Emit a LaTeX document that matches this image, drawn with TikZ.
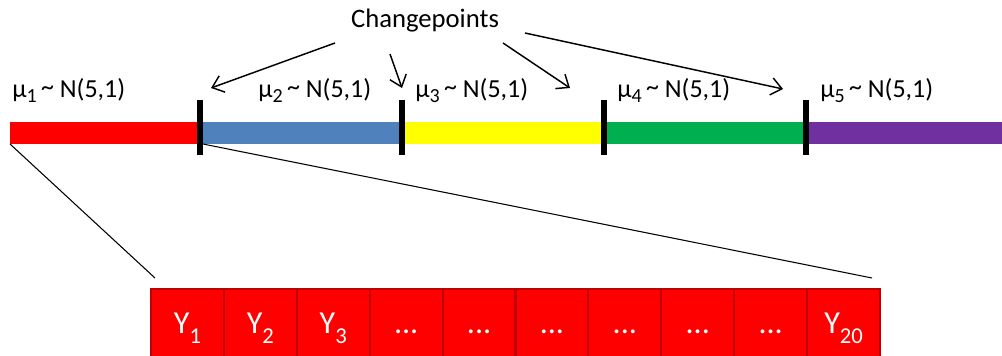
\documentclass[tikz,border=0pt]{standalone}
\usepackage{fontspec}
\setmainfont{Carlito}
\usetikzlibrary{arrows.meta}

\definecolor{segred}{HTML}{FF0000}
\definecolor{segblue}{HTML}{4F81BD}
\definecolor{segyellow}{HTML}{FFFF00}
\definecolor{seggreen}{HTML}{00B050}
\definecolor{segpurple}{HTML}{7030A0}
\definecolor{celledge}{HTML}{C00000}

% lowered subscript in the label font
\newcommand\lowsub[3]{\raisebox{-#2}{\fontsize{#3}{#3}\selectfont #1}}
\newcommand\mulabel[1]{μ\lowsub{#1}{3.5pt}{15pt}\,\raisebox{1.5pt}{\textasciitilde}\ N(5,1)}
\newcommand\ylabel[1]{Y\lowsub{#1}{7pt}{17pt}}

\tikzset{
  tick/.style={line width=4.5pt, black},
  pointer/.style={line width=1.1pt, -{Straight Barb[length=8pt,width=13pt,line width=1.1pt]}},
  zoomline/.style={line width=0.8pt, black},
  mulab/.style={anchor=base west, inner sep=0pt, font=\fontsize{19.5pt}{22pt}\selectfont},
  title/.style={inner sep=0pt, font=\fontsize{20pt}{22pt}\selectfont},
  cell/.style={draw=celledge, fill=segred, line width=1.6pt, minimum width=54.7pt,
               minimum height=54pt, inner sep=0pt, text=white,
               text height=16pt, text depth=3pt,
               font=\fontsize{24pt}{26pt}\selectfont},
}

\begin{document}
\begin{tikzpicture}[x=0.75pt, y=-0.75pt]
\useasboundingbox (0,0) rectangle (1002,356);

% coloured segments of the series
\fill[segred]    (10,122)  rectangle (200,144);
\fill[segblue]   (200,122) rectangle (402,144);
\fill[segyellow] (402,122) rectangle (604,144);
\fill[seggreen]  (604,122) rectangle (806,144);
\fill[segpurple] (806,122) rectangle (1002,144);

% changepoint ticks
\foreach \n/\x in {t1/200, t2/402, t3/604, t4/806} {
  \coordinate (\n top) at (\x,100);
  \coordinate (\n bot) at (\x,155);
  \draw[tick] (\n top) -- (\n bot);
}

% segment means
\node[mulab] (m1) at (12,98)  {\mulabel{1}};
\node[mulab] (m2) at (258,98) {\mulabel{2}};
\node[mulab] (m3) at (415,98) {\mulabel{3}};
\node[mulab] (m4) at (617,98) {\mulabel{4}};
\node[mulab] (m5) at (820,98) {\mulabel{5}};

% title and pointers
\node[title] (cp) at (425,21) {Changepoints};
\coordinate (s1) at (335,43);
\coordinate (e1) at (211,88);
\coordinate (s2) at (390,54);
\coordinate (e2) at (402,88);
\coordinate (s3) at (503,43);
\coordinate (e3) at (570,88);
\coordinate (s4) at (525,33);
\coordinate (e4) at (783,89);
\draw[pointer] (s1) -- (e1);
\draw[pointer] (s2) -- (e2);
\draw[pointer] (s3) -- (e3);
\draw[pointer] (s4) -- (e4);

% observations of the first segment
\foreach \i/\t in {1/{\ylabel{1}}, 2/{\ylabel{2}}, 3/{\ylabel{3}}, 4/{...}, 5/{...},
                   6/{...}, 7/{...}, 8/{...}, 9/{...}, 10/{\ylabel{20}}} {
  \node[cell] (c\i) at ({151+72.9*(\i-1)+36.45}, 325) {\t};
}

% zoom-in lines from the first segment to the cells
\coordinate (z1) at (10,144);
\coordinate (z2) at (203,144);
\coordinate (w1) at (155,278);
\coordinate (w2) at (872,278);
\draw[zoomline] (z1) -- (w1);
\draw[zoomline] (z2) -- (w2);
\end{tikzpicture}
\end{document}
